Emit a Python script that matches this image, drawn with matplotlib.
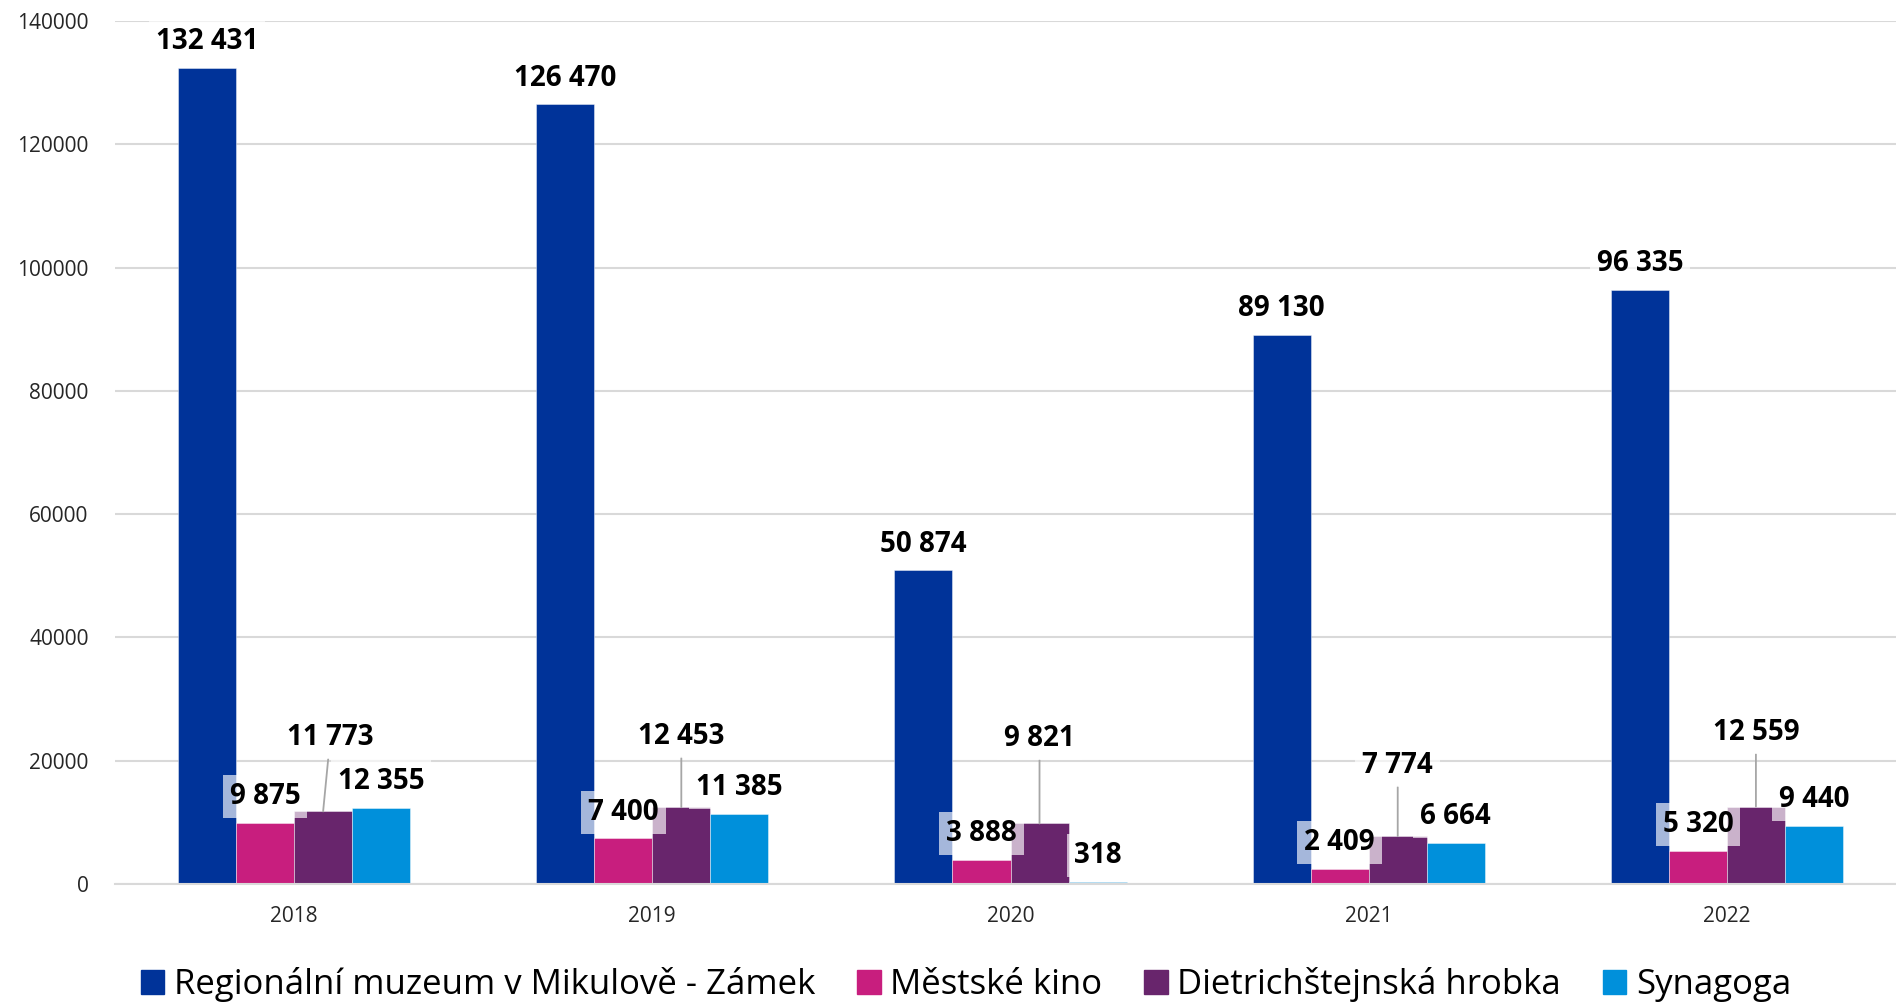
import numpy as np
import matplotlib
matplotlib.use("Agg")
import matplotlib.pyplot as plt
from matplotlib.patches import Patch
from matplotlib.ticker import FuncFormatter

plt.rcParams['font.family'] = ['Open Sans', 'DejaVu Sans']

years = ['2018', '2019', '2020', '2021', '2022']
zamek = [132431, 126470, 50874, 89130, 96335]
kino = [9875, 7400, 3888, 2409, 5320]
hrobka = [11773, 12453, 9821, 7774, 12559]
synagoga = [12355, 11385, 318, 6664, 9440]
names = ['Regionální muzeum v Mikulově - Zámek', 'Městské kino',
         'Dietrichštejnská hrobka', 'Synagoga']
colors = ['#003399', '#C81E7E', '#68256C', '#0090DB']

# hrobka labels are pulled up and joined to the bar with a leader line
hrobka_label_y = [23760, 23960, 23570, 19250, 24540]
hrobka_label_dx = [0.02, 0, 0, 0, 0]


def fmt(v):
    return f"{v:,}".replace(',', ' ')


fig = plt.figure(figsize=(18.96, 10.07), dpi=100)
ax = fig.add_axes([115 / 1896, 1 - 884 / 1007, 1791 / 1896, 863 / 1007])

x = np.arange(len(years))
w = 0.162
box = dict(boxstyle='square,pad=0.25', fc='white', ec='none', alpha=0.65)
lab = dict(fontsize=20, fontweight='bold', color='black', zorder=5)

for i, (vals, c) in enumerate(zip([zamek, kino, hrobka, synagoga], colors)):
    xs = x + (i - 1.5) * w
    ax.bar(xs, vals, w, color=c, edgecolor=(1, 1, 1, 0.5), linewidth=0.6, zorder=2)
    for j, (xi, v) in enumerate(zip(xs, vals)):
        if i == 2:
            ax.annotate(fmt(v), xy=(xi, v), xytext=(xi + hrobka_label_dx[j], hrobka_label_y[j]),
                        textcoords='data', ha='center', va='center', bbox=box,
                        arrowprops=dict(arrowstyle='-', color='#a6a6a6', lw=1.3,
                                        shrinkA=0, shrinkB=0), **lab)
        else:
            ax.annotate(fmt(v), xy=(xi, v), xytext=(0, 8.5), textcoords='offset points',
                        ha='center', va='bottom', bbox=box, **lab)

ax.set_xlim(-0.5, 4.5)
ax.set_ylim(0, 140000)
ax.set_xticks(x)
ax.set_xticklabels(years)
ax.set_yticks(range(0, 140001, 20000))
ax.yaxis.set_major_formatter(FuncFormatter(lambda v, p: f"{int(v)}"))
ax.tick_params(length=0, labelsize=15, colors='#262626')
ax.tick_params(axis='x', pad=16)
ax.tick_params(axis='y', pad=19)
ax.set_axisbelow(True)
ax.yaxis.grid(True, color='#d9d9d9', lw=1.5)
for s in ['top', 'right', 'left']:
    ax.spines[s].set_visible(False)
ax.spines['bottom'].set_color('#d9d9d9')
ax.spines['bottom'].set_linewidth(1.5)

handles = [Patch(color=c, label=n) for c, n in zip(colors, names)]
fig.legend(handles=handles, loc='center', bbox_to_anchor=(966 / 1896, 1 - 985 / 1007),
           ncol=4, frameon=False, fontsize=25, handlelength=0.68, handleheight=0.68,
           handletextpad=0.28, columnspacing=1.2)

fig.savefig('out.png', dpi=100)
